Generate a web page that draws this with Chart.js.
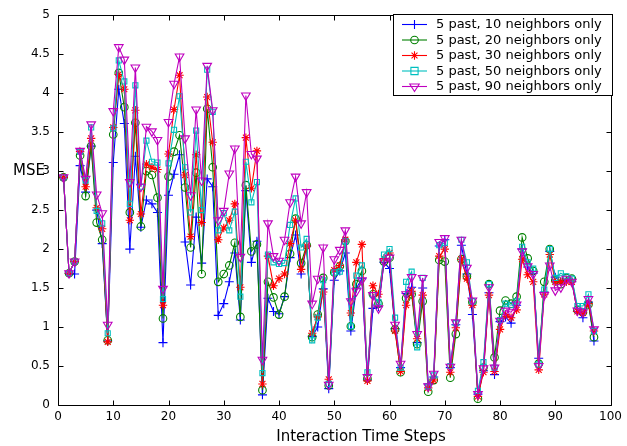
<!DOCTYPE html>
<html>
<head>
<meta charset="utf-8">
<script src="https://cdn.jsdelivr.net/npm/chart.js@4/dist/chart.umd.min.js"></script>
<style>
html,body{margin:0;padding:0;background:#fff;}
#wrap{position:relative;width:627px;height:446px;}
canvas{display:block;}
</style>
</head>
<body>
<div id="wrap"><canvas id="c" width="627" height="446"></canvas></div>
<script>
// ---- data ----
const steps = [1,2,3,4,5,6,7,8,9,10,11,12,13,14,15,16,17,18,19,20,21,22,23,24,25,26,27,28,29,30,31,32,33,34,35,36,37,38,39,40,41,42,43,44,45,46,47,48,49,50,51,52,53,54,55,56,57,58,59,60,61,62,63,64,65,66,67,68,69,70,71,72,73,74,75,76,77,78,79,80,81,82,83,84,85,86,87,88,89,90,91,92,93,94,95,96,97];

const n10 = [2.92,1.69,1.68,3.07,2.73,3.32,2.50,2.07,0.82,3.11,4.05,3.61,2.00,3.19,2.28,2.63,2.58,2.47,0.80,2.69,2.96,3.21,2.09,1.54,2.41,1.82,2.90,2.80,1.15,1.30,1.58,1.95,1.09,2.75,1.83,2.10,0.13,1.37,1.20,1.17,1.39,1.89,2.18,1.68,2.04,0.88,1.00,1.49,0.21,1.60,1.72,1.95,0.95,1.50,1.62,0.32,1.24,1.26,1.83,1.75,0.98,0.48,1.43,1.51,0.80,1.50,0.27,0.36,2.04,2.12,0.48,1.03,2.05,1.68,1.16,0.14,0.44,1.44,0.39,1.07,1.13,1.05,1.28,2.00,1.77,1.69,0.60,1.45,1.97,1.64,1.58,1.60,1.58,1.20,1.12,1.32,0.82];

const n20 = [2.92,1.69,1.84,3.20,2.68,3.32,2.34,2.12,0.83,3.47,4.26,3.82,2.47,3.62,2.29,3.00,2.95,2.66,1.11,2.93,3.25,3.46,2.79,2.02,2.98,1.68,3.80,3.05,1.58,1.68,1.79,2.08,1.13,2.82,1.97,2.06,0.19,1.58,1.38,1.16,1.39,1.94,2.39,1.82,2.05,0.87,1.16,1.63,0.25,1.70,1.78,2.10,1.01,1.55,1.72,0.34,1.42,1.30,1.84,1.89,0.97,0.42,1.37,1.42,0.78,1.33,0.17,0.32,1.86,1.84,0.35,0.91,1.87,1.65,1.32,0.08,0.48,1.55,0.61,1.21,1.34,1.30,1.39,2.15,1.88,1.72,0.53,1.58,2.00,1.60,1.55,1.63,1.62,1.22,1.19,1.29,0.87];

const n30 = [2.92,1.69,1.84,3.25,2.80,3.42,2.53,2.26,0.81,3.56,4.24,4.05,2.37,3.78,2.45,3.09,3.05,3.02,1.28,3.22,3.79,4.23,2.95,2.16,3.21,2.34,3.95,3.37,2.12,2.27,2.37,2.58,1.51,3.43,2.78,3.26,0.27,1.91,1.53,1.62,1.68,2.07,2.37,1.74,2.04,0.92,1.13,1.45,0.33,1.73,1.79,2.12,1.18,1.83,2.06,0.31,1.53,1.42,1.88,1.95,0.95,0.43,1.28,1.46,0.85,1.41,0.22,0.32,1.91,2.00,0.42,0.99,1.87,1.62,1.28,0.11,0.42,1.41,0.43,0.97,1.16,1.12,1.22,1.87,1.67,1.58,0.45,1.42,1.93,1.58,1.58,1.58,1.58,1.20,1.18,1.30,0.95];

const n50 = [2.92,1.69,1.84,3.25,2.88,3.56,2.49,2.33,0.92,3.55,4.42,4.15,2.58,4.10,2.80,3.39,3.12,3.11,1.36,3.10,3.53,3.96,3.05,2.47,3.52,2.50,4.30,3.76,2.24,2.46,2.24,2.48,1.39,3.12,2.60,2.86,0.41,1.93,1.83,1.81,1.82,2.31,2.65,2.02,2.13,0.83,1.12,1.60,0.27,1.70,1.71,2.10,1.01,1.66,1.79,0.42,1.41,1.32,1.93,2.00,1.12,0.48,1.58,1.71,0.74,1.63,0.24,0.38,2.05,2.08,0.50,1.05,2.12,1.83,1.33,0.18,0.55,1.55,0.48,1.09,1.30,1.28,1.33,2.03,1.83,1.75,0.52,1.48,2.00,1.63,1.69,1.65,1.62,1.27,1.27,1.42,0.95];

const n90 = [2.92,1.69,1.84,3.26,2.90,3.60,2.70,2.46,1.03,3.77,4.59,4.43,2.86,4.33,2.80,3.57,3.51,3.40,1.49,3.63,4.12,4.47,3.42,2.69,3.79,2.88,4.35,3.78,2.37,2.49,2.97,3.29,1.90,3.97,3.22,3.16,0.58,2.33,1.91,1.85,2.12,2.60,2.93,2.33,2.73,1.30,1.62,2.02,0.26,1.87,1.99,2.24,1.33,1.46,1.60,0.36,1.41,1.24,1.84,1.89,1.03,0.53,1.42,1.64,0.91,1.63,0.24,0.40,2.09,2.14,0.49,1.06,2.12,1.76,1.34,0.14,0.47,1.51,0.48,1.08,1.21,1.19,1.29,1.97,1.78,1.68,0.50,1.41,1.79,1.47,1.51,1.62,1.58,1.21,1.19,1.36,0.97];

const seriesLabels = ['5 past, 10 neighbors only','5 past, 20 neighbors only','5 past, 30 neighbors only','5 past, 50 neighbors only','5 past, 90 neighbors only'];
const xTicks = [0,10,20,30,40,50,60,70,80,90,100];
const yTicks = [0,0.5,1,1.5,2,2.5,3,3.5,4,4.5,5];
const xTitle = 'Interaction Time Steps';
const yTitle = 'MSE';

// ---- styles ----
const colors = ['#0000ff','#008000','#ff0000','#00bfbf','#bf00bf'];
const marks = [
  {style:'cross', r:4.5, rot:0},
  {style:'circle', r:3.8, rot:0},
  {style:'star', r:4.2, rot:0},
  {style:'rect', r:3.6, rot:0},
  {style:'triangle', r:5, rot:180}
];
const values = [n10,n20,n30,n50,n90];

const datasets = values.map((vals,i)=>({
  label: seriesLabels[i],
  data: steps.map((s,k)=>({x:s,y:vals[k]})),
  borderColor: colors[i],
  backgroundColor: 'rgba(0,0,0,0)',
  borderWidth: 1.1,
  pointStyle: marks[i].style,
  pointRadius: marks[i].r,
  pointRotation: marks[i].rot,
  pointBorderColor: colors[i],
  pointBackgroundColor: 'rgba(0,0,0,0)',
  pointBorderWidth: 1.1,
  pointHoverRadius: marks[i].r,
  tension: 0,
  fill: false,
  order: 5 - i
}));

const FONT = "'DejaVu Sans', 'Liberation Sans', Arial, sans-serif";

function drawMarker(ctx, style, r, rot, x, y, color){
  ctx.save();
  ctx.strokeStyle = color;
  ctx.lineWidth = 1.1;
  ctx.translate(x,y);
  ctx.rotate(rot*Math.PI/180);
  ctx.beginPath();
  if(style==='cross'){
    ctx.moveTo(-r,0);ctx.lineTo(r,0);ctx.moveTo(0,-r);ctx.lineTo(0,r);
  } else if(style==='circle'){
    ctx.arc(0,0,r,0,Math.PI*2);
  } else if(style==='star'){
    ctx.moveTo(-r,0);ctx.lineTo(r,0);ctx.moveTo(0,-r);ctx.lineTo(0,r);
    const d=r*0.7071;
    ctx.moveTo(-d,-d);ctx.lineTo(d,d);ctx.moveTo(-d,d);ctx.lineTo(d,-d);
  } else if(style==='rect'){
    ctx.rect(-r,-r,2*r,2*r);
  } else if(style==='triangle'){
    ctx.moveTo(0,-r);ctx.lineTo(r*0.95,r*0.5);ctx.lineTo(-r*0.95,r*0.5);ctx.closePath();
  }
  ctx.stroke();
  ctx.restore();
}

const framePlugin = {
  id:'frame',
  afterDraw(chart){
    const ctx = chart.ctx;
    const a = chart.chartArea;
    const xs = chart.scales.x, ys = chart.scales.y;
    const L = Math.round(a.left)+0.5, R = Math.round(a.right)+0.5, T = Math.round(a.top)+0.5, B = Math.round(a.bottom)+0.5;
    ctx.save();
    ctx.strokeStyle = '#000';
    ctx.lineWidth = 1;
    ctx.beginPath();
    ctx.rect(L, T, R-L, B-T);
    ctx.stroke();
    const tl = 5;
    ctx.beginPath();
    xTicks.forEach(v=>{
      const px = Math.round(xs.getPixelForValue(v))+0.5;
      ctx.moveTo(px,B);ctx.lineTo(px,B-tl);
      ctx.moveTo(px,T);ctx.lineTo(px,T+tl);
    });
    yTicks.forEach(v=>{
      const py = Math.round(ys.getPixelForValue(v))+0.5;
      ctx.moveTo(L,py);ctx.lineTo(L+tl,py);
      ctx.moveTo(R,py);ctx.lineTo(R-tl,py);
    });
    ctx.stroke();

    // axis titles (MATLAB-style placement)
    ctx.fillStyle = '#000';
    ctx.font = '15px ' + FONT;
    ctx.textBaseline = 'alphabetic';
    ctx.textAlign = 'right';
    ctx.fillText(yTitle, 45, 175);
    ctx.textAlign = 'center';
    ctx.fillText(xTitle, 361, 441);

    // legend box
    const bx = 393.5, by = 14.5, bw = 219, bh = 81;
    ctx.fillStyle = '#fff';
    ctx.fillRect(bx, by, bw, bh);
    ctx.strokeStyle = '#000';
    ctx.strokeRect(bx, by, bw, bh);
    ctx.font = '13px ' + FONT;
    ctx.textAlign = 'left';
    ctx.textBaseline = 'middle';
    const rows = [24.5, 40, 55.5, 71, 86.5];
    seriesLabels.forEach((lab,i)=>{
      const y = rows[i];
      ctx.strokeStyle = colors[i];
      ctx.lineWidth = 1.1;
      ctx.beginPath();ctx.moveTo(402,y);ctx.lineTo(427,y);ctx.stroke();
      drawMarker(ctx, marks[i].style, marks[i].r, marks[i].rot, 414.5, y, colors[i]);
      ctx.fillStyle = '#000';
      ctx.fillText(lab, 436, y+0.5);
    });
    ctx.restore();
  }
};

const fmt = v => String(Math.round(v*10)/10);

new Chart(document.getElementById('c'), {
  type:'line',
  data:{datasets},
  options:{
    responsive:false,
    animation:false,
    events:[],
    layout:{padding:{top:8,right:10,left:0,bottom:0}},
    plugins:{legend:{display:false},tooltip:{enabled:false}},
    scales:{
      x:{
        type:'linear', min:0, max:100,
        afterBuildTicks(s){ s.ticks = xTicks.map(v=>({value:v})); },
        afterFit(s){ s.height = 41; },
        grid:{display:false, drawTicks:false, tickLength:0},
        border:{display:false},
        ticks:{font:{family:FONT,size:12},color:'#000',padding:5,maxRotation:0,autoSkip:false,callback:fmt},
        title:{display:false,text:xTitle}
      },
      y:{
        type:'linear', min:0, max:5,
        afterBuildTicks(s){ s.ticks = yTicks.map(v=>({value:v})); },
        afterFit(s){ s.width = 58; },
        grid:{display:false, drawTicks:false, tickLength:0},
        border:{display:false},
        ticks:{font:{family:FONT,size:12},color:'#000',padding:8,autoSkip:false,callback:fmt},
        title:{display:false,text:yTitle}
      }
    }
  },
  plugins:[framePlugin]
});
</script>
</body>
</html>
